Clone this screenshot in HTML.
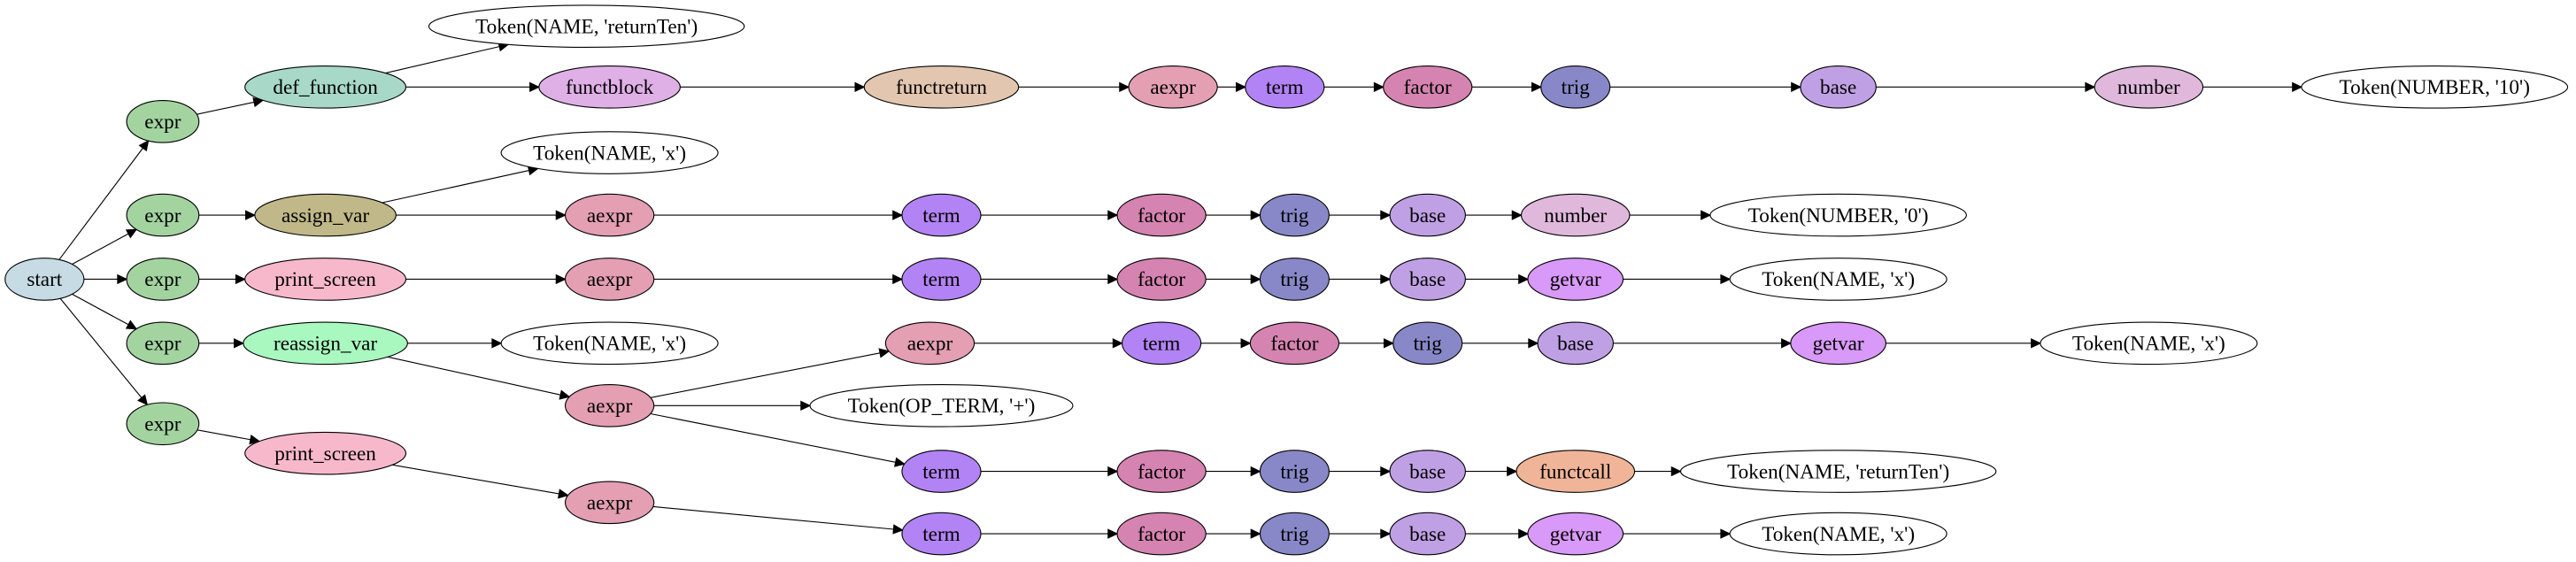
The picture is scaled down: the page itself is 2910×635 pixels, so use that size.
<!DOCTYPE html>
<html><head><meta charset="utf-8">
<style>html,body{margin:0;padding:0;background:#fff;width:2910px;height:635px;overflow:hidden}</style>
</head><body>
<svg id="g" xmlns="http://www.w3.org/2000/svg" width="2910" height="635" viewBox="0 0 1568 342.2"></svg>
<script>
const N={
start:[27,170,24,'start','#c6dbe3'],
e1:[99,74,22,'expr','#a3d4a0'],e2:[99,131,22,'expr','#a3d4a0'],e3:[99,170,22,'expr','#a3d4a0'],e4:[99,209,22,'expr','#a3d4a0'],e5:[99,258,22,'expr','#a3d4a0'],
def:[198,53,49,'def_function','#a8d8c8'],trt:[357,16,96,"Token(NAME, 'returnTen')",'#fff'],
fb:[371,53,43,'functblock','#dfb0e6'],fr:[573,53,47,'functreturn','#e3c6b0'],a1:[714,53,27,'aexpr','#e49fb2'],t1:[782,53,24,'term','#b283f4'],f1:[869,53,27,'factor','#d583b0'],g1:[959,53,21,'trig','#8888c8'],b1:[1119,53,23,'base','#c0a0e4'],n1:[1308,53,33,'number','#dfb8dc'],k1:[1482,53,81,"Token(NUMBER, '10')",'#fff'],
as:[198,131,43,'assign_var','#c0b888'],x2:[371,93,66,"Token(NAME, 'x')",'#fff'],a2:[371,131,27,'aexpr','#e49fb2'],t2:[573,131,24,'term','#b283f4'],f2:[707,131,27,'factor','#d583b0'],g2:[788,131,21,'trig','#8888c8'],b2:[869,131,23,'base','#c0a0e4'],n2:[959,131,33,'number','#dfb8dc'],k2:[1119,131,78,"Token(NUMBER, '0')",'#fff'],
ps:[198,170,49,'print_screen','#f8b8cc'],a3:[371,170,27,'aexpr','#e49fb2'],t3:[573,170,24,'term','#b283f4'],f3:[707,170,27,'factor','#d583b0'],g3:[788,170,21,'trig','#8888c8'],b3:[869,170,23,'base','#c0a0e4'],v3:[959,170,29,'getvar','#d899f8'],k3:[1119,170,66,"Token(NAME, 'x')",'#fff'],
rv:[198,209,50,'reassign_var','#a8f8c0'],x4:[371,209,66,"Token(NAME, 'x')",'#fff'],a4:[371,247,27,'aexpr','#e49fb2'],a5:[566,209,27,'aexpr','#e49fb2'],t5:[707,209,24,'term','#b283f4'],f5:[788,209,27,'factor','#d583b0'],g5:[869,209,21,'trig','#8888c8'],b5:[959,209,23,'base','#c0a0e4'],v5:[1119,209,29,'getvar','#d899f8'],k5:[1308,209,66,"Token(NAME, 'x')",'#fff'],
op:[573,247,80,"Token(OP_TERM, '+')",'#fff'],
t6:[573,287,24,'term','#b283f4'],f6:[707,287,27,'factor','#d583b0'],g6:[788,287,21,'trig','#8888c8'],b6:[869,287,23,'base','#c0a0e4'],c6:[959,287,36,'functcall','#f0b498'],k6:[1119,287,96,"Token(NAME, 'returnTen')",'#fff'],
p2:[198,276,49,'print_screen','#f8b8cc'],a7:[371,306,27,'aexpr','#e49fb2'],t7:[573,325,24,'term','#b283f4'],f7:[707,325,27,'factor','#d583b0'],g7:[788,325,21,'trig','#8888c8'],b7:[869,325,23,'base','#c0a0e4'],v7:[959,325,29,'getvar','#d899f8'],k7:[1119,325,66,"Token(NAME, 'x')",'#fff']
};
const E=[['start','e1'],['start','e2'],['start','e3'],['start','e4'],['start','e5'],
['e1','def'],['def','trt'],['def','fb'],['fb','fr'],['fr','a1'],['a1','t1'],['t1','f1'],['f1','g1'],['g1','b1'],['b1','n1'],['n1','k1'],
['e2','as'],['as','x2'],['as','a2'],['a2','t2'],['t2','f2'],['f2','g2'],['g2','b2'],['b2','n2'],['n2','k2'],
['e3','ps'],['ps','a3'],['a3','t3'],['t3','f3'],['f3','g3'],['g3','b3'],['b3','v3'],['v3','k3'],
['e4','rv'],['rv','x4'],['rv','a4'],['a4','a5'],['a4','op'],['a4','t6'],['a5','t5'],['t5','f5'],['f5','g5'],['g5','b5'],['b5','v5'],['v5','k5'],
['t6','f6'],['f6','g6'],['g6','b6'],['b6','c6'],['c6','k6'],
['e5','p2'],['p2','a7'],['a7','t7'],['t7','f7'],['f7','g7'],['g7','b7'],['b7','v7'],['v7','k7']];
const RY=12.8;
function bd(n,dx,dy){const a=n[2],b=RY;const t=1/Math.sqrt(dx*dx/(a*a)+dy*dy/(b*b));return [n[0]+dx*t,n[1]+dy*t];}
let s='';
for(const [u,v] of E){const A=N[u],B=N[v];let dx=B[0]-A[0],dy=B[1]-A[1];const L=Math.hypot(dx,dy);const ux=dx/L,uy=dy/L;
const p=bd(A,dx,dy),q=bd(B,-dx,-dy);const al=5.5,aw=2.6;const bx=q[0]-ux*al,by=q[1]-uy*al;
s+=`<line x1="${p[0]}" y1="${p[1]}" x2="${bx}" y2="${by}" stroke="#000" stroke-width="0.6"/>`;
s+=`<polygon points="${q[0]},${q[1]} ${bx-uy*aw},${by+ux*aw} ${bx+uy*aw},${by-ux*aw}" fill="#000" stroke="#000" stroke-width="0.6"/>`;}
for(const k in N){const n=N[k];s+=`<ellipse cx="${n[0]}" cy="${n[1]}" rx="${n[2]}" ry="${RY}" fill="${n[4]}" stroke="#000" stroke-width="0.6"/>`;
s+=`<text x="${n[0]}" y="${n[1]+4.2}" text-anchor="middle" font-family="Liberation Serif, serif" font-size="12.5">${n[3]}</text>`;}
document.getElementById('g').innerHTML=s;
</script>
</body></html>
